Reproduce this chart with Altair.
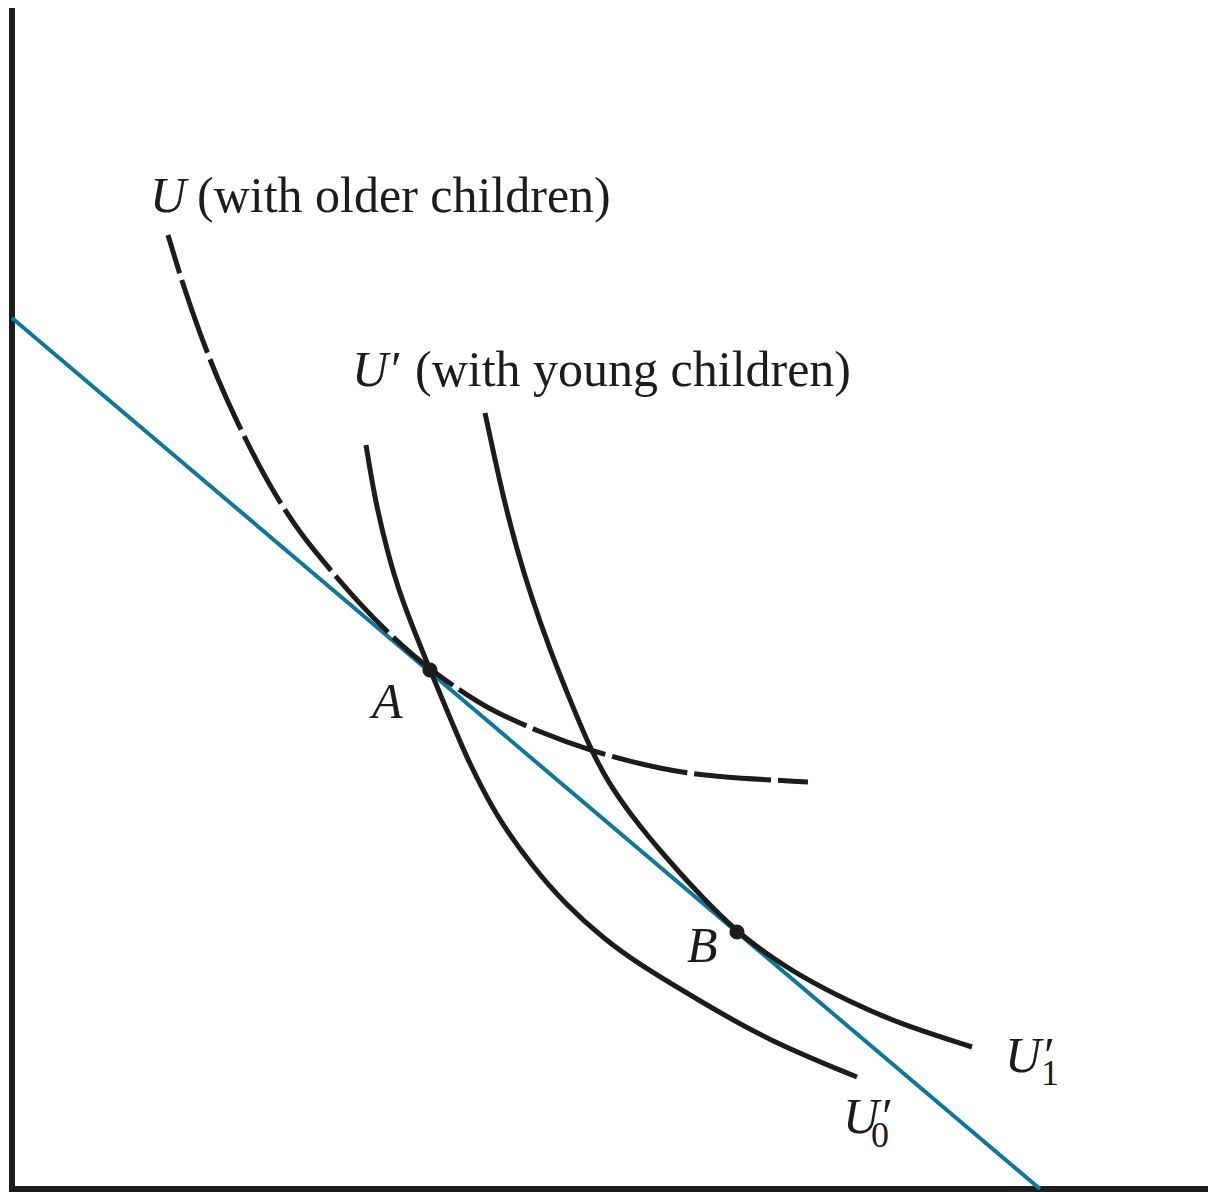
import altair as alt
import pandas as pd

# Budget line (end points on the axes)
budget_x = [0, 1028]
budget_y = [871, 0]

# Indifference curve U (with older children), dashed
u_old_x = [156, 171, 188, 206, 226, 246, 268, 291, 316, 345, 380, 418, 458, 481, 525, 578, 651, 705, 796]
u_old_y = [954, 904, 855, 809, 765, 725, 686, 652, 622, 588, 552, 519, 492, 478, 458, 438, 419, 412, 407]

# U'0 (with young children)
u0_x = [354, 363, 375, 388, 418, 441, 455, 471, 488, 520, 553, 592, 628, 688, 755, 845]
u0_y = [744, 689, 639, 593, 519, 464, 431, 399, 368, 323, 285, 250, 224, 188, 149, 112]

# U'1 (with young children)
u1_x = [473, 482, 492, 505, 519, 538, 558, 578, 596, 618, 655, 688, 725, 755, 788, 838, 888, 960]
u1_y = [776, 734, 689, 639, 593, 539, 489, 441, 407, 375, 330, 294, 257, 235, 213, 187, 165, 142]

# Tangency points
pt_names = ["A", "B"]
pt_x = [418, 725]
pt_y = [519, 257]

INK = "#1c1c1c"
BLUE = "#10779a"
FONT = "Liberation Serif"

xs = alt.Scale(domain=[-4, 1196], nice=False, zero=False)
ys = alt.Scale(domain=[-3, 1181], nice=False, zero=False)


def df(xv, yv):
    return pd.DataFrame({"x": xv, "y": yv})


def enc(chart):
    return chart.encode(
        x=alt.X("x:Q", scale=xs, axis=None),
        y=alt.Y("y:Q", scale=ys, axis=None),
    )


axis_v = alt.Chart().mark_rule(color=INK, strokeWidth=6).encode(
    x=alt.X(datum=0, scale=xs, axis=None),
    y=alt.Y(datum=-3, scale=ys, axis=None),
    y2=alt.Y2(datum=1181),
)
axis_h = alt.Chart().mark_rule(color=INK, strokeWidth=6).encode(
    y=alt.Y(datum=0, scale=ys, axis=None),
    x=alt.X(datum=-3, scale=xs, axis=None),
    x2=alt.X2(datum=1196),
)

budget = enc(alt.Chart(df(budget_x, budget_y)).mark_line(color=BLUE, strokeWidth=4))
u_old = enc(alt.Chart(df(u_old_x, u_old_y)).mark_line(
    color=INK, strokeWidth=5, strokeDash=[77, 7], strokeDashOffset=37, interpolate="basis"))
u0 = enc(alt.Chart(df(u0_x, u0_y)).mark_line(color=INK, strokeWidth=5, interpolate="basis"))
u1 = enc(alt.Chart(df(u1_x, u1_y)).mark_line(color=INK, strokeWidth=5, interpolate="basis"))
pts = enc(alt.Chart(pd.DataFrame({"x": pt_x, "y": pt_y, "name": pt_names})).mark_circle(
    color=INK, opacity=1, size=230))


def label(text, x, y, size=50, italic=False):
    kw = dict(text=text, font=FONT, fontSize=size, align="left", baseline="alphabetic", color=INK)
    if italic:
        kw["fontStyle"] = "italic"
    return alt.Chart().mark_text(**kw).encode(
        x=alt.X(datum=x, scale=xs, axis=None),
        y=alt.Y(datum=y, scale=ys, axis=None),
    )


labels = [
    label("U", 138, 977, italic=True),
    label("(with older children)", 185, 977),
    label("U\u2032", 340, 803, italic=True),
    label("(with young children)", 403, 803),
    label("A", 360, 471, italic=True),
    label("B", 675, 227, italic=True),
    label("U\u2032", 993, 117, italic=True),
    label("1", 1029, 104, size=36),
    label("U\u2032", 831, 56, italic=True),
    label("0", 859, 42, size=36),
]

chart = alt.layer(axis_v, axis_h, budget, u_old, u0, u1, pts, *labels).properties(
    width=1200, height=1184, padding=0, autosize="none"
).configure_view(stroke=None)

chart.save("out.html", embed_options={"renderer": "svg", "actions": False})
